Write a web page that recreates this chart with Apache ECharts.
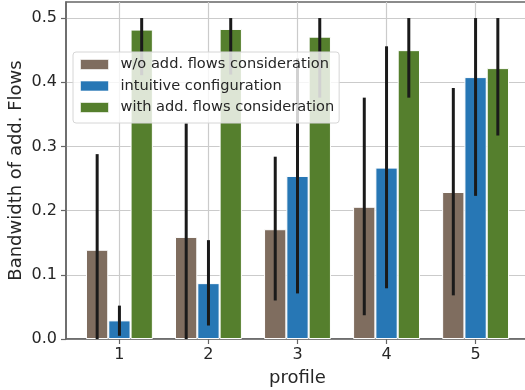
<!DOCTYPE html>
<html>
<head>
<meta charset="utf-8">
<script src="https://cdn.jsdelivr.net/npm/echarts@6/dist/echarts.min.js"></script>
<style>
html,body{margin:0;padding:0;background:#fff;}
#chart{width:525px;height:390px;}
</style>
</head>
<body>
<div id="chart"></div>
<script>
// ---- data ----
var profiles = [1, 2, 3, 4, 5];
var seriesNames = ['w/o add. flows consideration', 'intuitive configuration', 'with add. flows consideration'];
var woValues = [0.139, 0.159, 0.171, 0.206, 0.229];
var woLow = [0.0, 0.0, 0.060, 0.037, 0.068];
var woHigh = [0.288, 0.336, 0.284, 0.376, 0.391];
var intuitiveValues = [0.029, 0.087, 0.254, 0.267, 0.408];
var intuitiveLow = [0.005, 0.021, 0.071, 0.079, 0.223];
var intuitiveHigh = [0.052, 0.154, 0.437, 0.456, 0.5];
var withValues = [0.482, 0.483, 0.471, 0.450, 0.422];
var withLow = [0.411, 0.412, 0.376, 0.376, 0.317];
var withHigh = [0.5, 0.5, 0.5, 0.5, 0.5];
var yTicks = [0, 0.1, 0.2, 0.3, 0.4, 0.5];

var colors = ['#7f6d5f', '#2777b5', '#557f2d'];
var barOffsets = [-0.25, 0, 0.25];
var FONT = 'DejaVu Sans';

var chart = echarts.init(document.getElementById('chart'), null, {renderer: 'canvas'});

function barData(vals) {
  return profiles.map(function (p, i) { return [p, vals[i]]; });
}
function errData(low, high, k) {
  return profiles.map(function (p, i) { return [p + barOffsets[k], low[i], high[i]]; });
}
function errSeries(low, high, k) {
  return {
    type: 'custom',
    z: 3,
    silent: true,
    data: errData(low, high, k),
    encode: {x: 0, y: [1, 2]},
    renderItem: function (params, api) {
      var a = api.coord([api.value(0), api.value(1)]);
      var b = api.coord([api.value(0), api.value(2)]);
      return {
        type: 'line',
        shape: {x1: a[0], y1: a[1], x2: b[0], y2: b[1]},
        style: {stroke: '#1a1a1a', lineWidth: 3}
      };
    }
  };
}
function barSeries(name, vals, k) {
  return {
    name: name,
    type: 'bar',
    data: barData(vals),
    barWidth: 22.3,
    barGap: '0%',
    itemStyle: {color: colors[k], borderColor: '#ffffff', borderWidth: 1},
    z: 2
  };
}

var option = {
  animation: false,
  backgroundColor: '#ffffff',
  textStyle: {fontFamily: FONT},
  grid: {
    left: 66, top: 2, right: -4, bottom: 51,
    outerBoundsMode: 'none',
    containLabel: false,
    show: true, borderColor: '#666666', borderWidth: 1.5, backgroundColor: 'transparent'
  },
  legend: {
    orient: 'vertical',
    left: 73, top: 52,
    z: 20,
    data: seriesNames,
    itemWidth: 28, itemHeight: 10, itemGap: 6.5,
    padding: [5, 5, 8, 7],
    backgroundColor: 'rgba(255,255,255,0.8)',
    borderColor: '#d6d6d6', borderWidth: 1, borderRadius: 3,
    icon: 'rect',
    itemStyle: {borderColor: 'rgba(255,255,255,0.6)', borderWidth: 1},
    textStyle: {fontFamily: FONT, fontSize: 14.6, color: '#262626', lineHeight: 14, padding: [0, 0, 0, 7]}
  },
  xAxis: {
    type: 'value',
    min: 0.4, max: 5.6,
    name: 'profile',
    nameLocation: 'middle',
    nameGap: 30,
    nameMoveOverlap: false,
    nameTextStyle: {fontFamily: FONT, fontSize: 18, color: '#262626'},
    axisLine: {show: true, onZero: false, lineStyle: {color: '#666666', width: 1.5}},
    axisTick: {show: true, length: 5, customValues: profiles, lineStyle: {color: '#666666', width: 1.2}},
    axisLabel: {
      customValues: profiles,
      fontFamily: FONT, fontSize: 16, color: '#262626', margin: 8,
      formatter: function (v) { return Math.abs(v - Math.round(v)) < 1e-6 ? String(Math.round(v)) : ''; }
    },
    splitLine: {show: true, lineStyle: {color: '#cbcbcb', width: 1.2}}
  },
  yAxis: {
    type: 'value',
    min: 0, max: 0.525, interval: 0.1,
    name: 'Bandwidth of add. Flows',
    nameLocation: 'middle',
    nameGap: 41,
    nameMoveOverlap: false,
    nameRotate: 90,
    nameTextStyle: {fontFamily: FONT, fontSize: 18, color: '#262626'},
    axisLine: {show: true, lineStyle: {color: '#666666', width: 1.5}},
    axisTick: {show: true, length: 5, customValues: yTicks, lineStyle: {color: '#666666', width: 1.2}},
    axisLabel: {
      customValues: yTicks,
      fontFamily: FONT, fontSize: 16, color: '#262626', margin: 9,
      formatter: function (v) {
        var r = Math.round(v * 10) / 10;
        return Math.abs(v - r) < 1e-6 ? r.toFixed(1) : '';
      }
    },
    splitLine: {show: true, lineStyle: {color: '#cbcbcb', width: 1.2}}
  },
  series: [
    barSeries(seriesNames[0], woValues, 0),
    barSeries(seriesNames[1], intuitiveValues, 1),
    barSeries(seriesNames[2], withValues, 2),
    errSeries(woLow, woHigh, 0),
    errSeries(intuitiveLow, intuitiveHigh, 1),
    errSeries(withLow, withHigh, 2)
  ]
};
chart.setOption(option);
</script>
</body>
</html>
